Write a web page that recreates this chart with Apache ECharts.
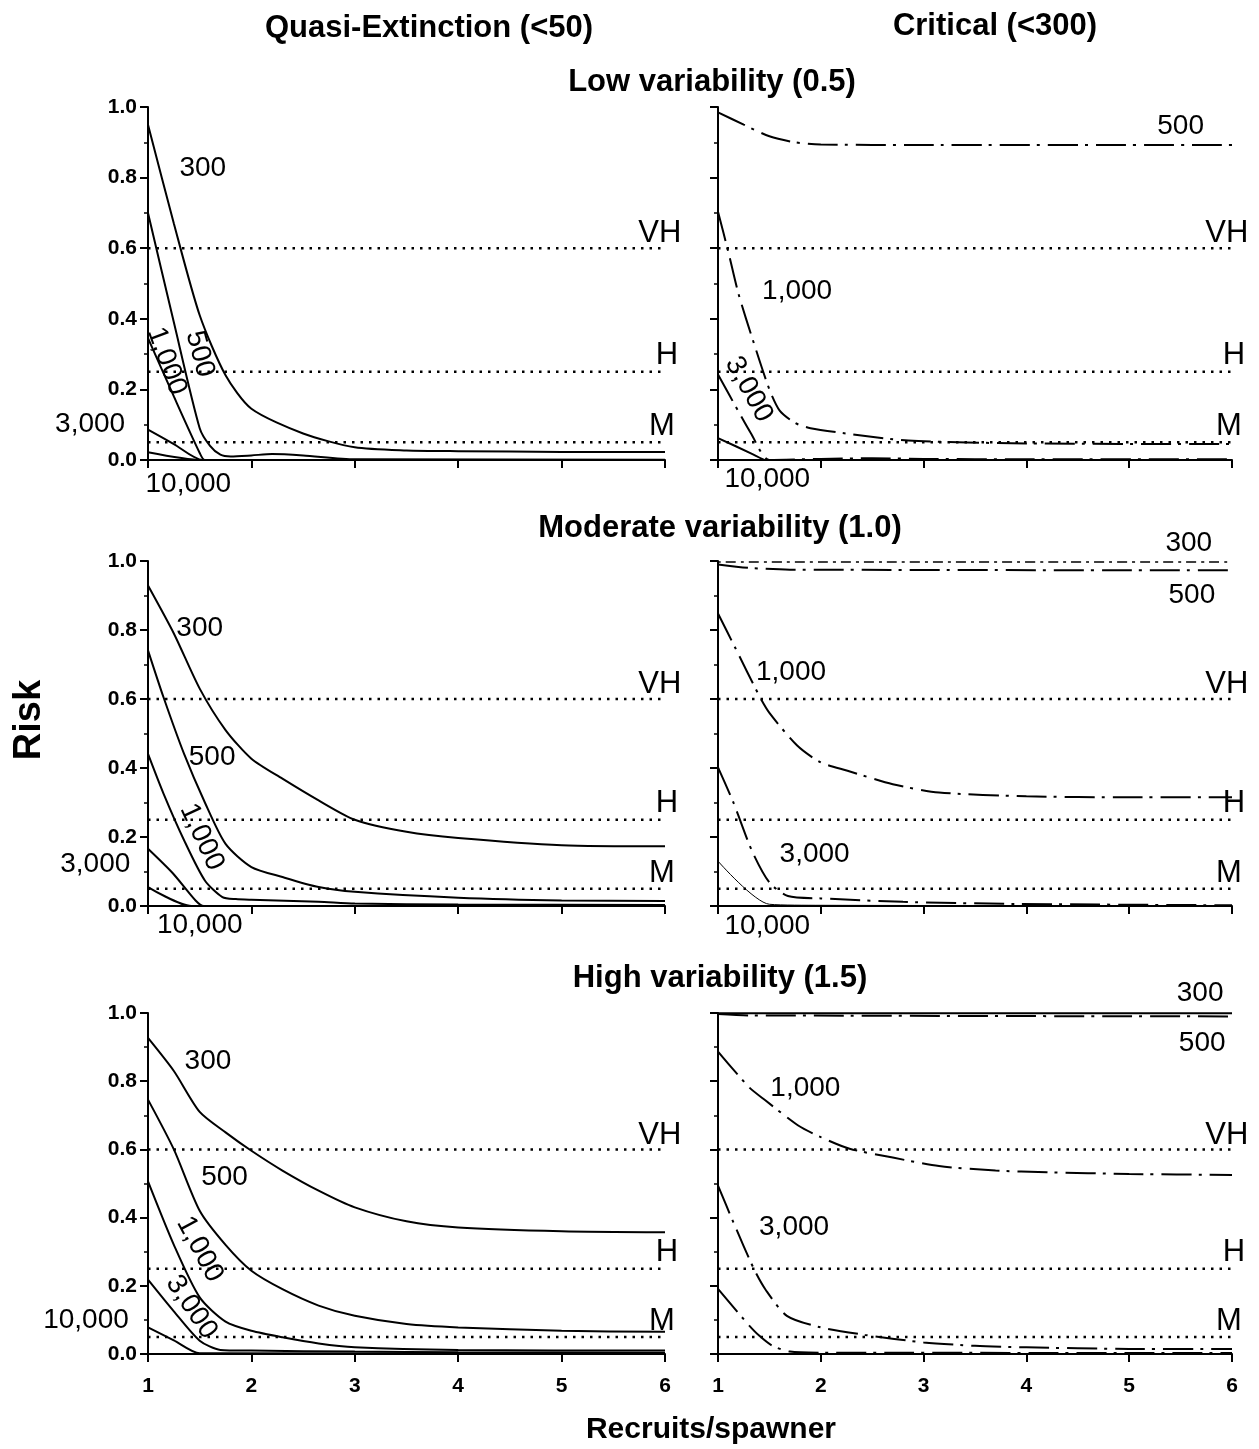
<!DOCTYPE html>
<html>
<head>
<meta charset="utf-8">
<title>Risk vs recruits per spawner</title>
<script src="https://cdn.jsdelivr.net/npm/echarts@6/dist/echarts.min.js"></script>
<style>
  html, body { margin: 0; padding: 0; background: #fff; }
  #chart { width: 1259px; height: 1449px; }
</style>
</head>
<body>
<div id="chart"></div>
<script>
// x axis: recruits/spawner, y axis: risk
var xTicks = [1, 2, 3, 4, 5, 6];
var yTicks = [0, 0.2, 0.4, 0.6, 0.8, 1.0];
var thresholds = [0.6, 0.25, 0.05];
var thresholdNames = ['VH', 'H', 'M'];
var curveNames = ['300', '500', '1,000', '3,000', '10,000'];

// Quasi-extinction (<50), low variability (0.5)
var q05_300 = [[1, 0.95], [1.25, 0.67], [1.5, 0.41], [1.75, 0.24], [2, 0.145], [2.5, 0.075], [3, 0.036], [3.5, 0.027], [4, 0.025], [5, 0.023], [6, 0.023]];
var q05_500 = [[1, 0.70], [1.25, 0.39], [1.5, 0.09], [1.6, 0.04], [1.7, 0.015], [1.8, 0.01], [2, 0.013], [2.2, 0.017], [2.5, 0.013], [3, 0.002], [6, 0.001]];
var q05_1000 = [[1, 0.345], [1.25, 0.18], [1.5, 0.02], [1.55, 0], [6, 0]];
var q05_3000 = [[1, 0.086], [1.25, 0.045], [1.53, 0], [6, 0]];
var q05_10000 = [[1, 0.022], [1.52, 0], [6, 0]];

// Critical (<300), low variability (0.5)
var c05_500 = [[1, 0.985], [1.25, 0.95], [1.5, 0.917], [1.75, 0.9], [2, 0.894], [3, 0.892], [6, 0.892]];
var c05_1000 = [[1, 0.703], [1.1, 0.59], [1.2, 0.47], [1.35, 0.33], [1.5, 0.2], [1.6, 0.14], [1.75, 0.105], [1.9, 0.09], [2.25, 0.075], [2.85, 0.055], [4, 0.047], [6, 0.045]];
var c05_3000 = [[1, 0.242], [1.2, 0.137], [1.32, 0.076], [1.5, 0], [2, 0.003], [2.5, 0.005], [3, 0.003], [4, 0.002], [6, 0.002]];
var c05_10000 = [[1, 0.062], [1.32, 0.019], [1.45, 0]];

// Quasi-extinction, moderate variability (1.0)
var q10_300 = [[1, 0.929], [1.25, 0.79], [1.5, 0.63], [1.75, 0.51], [2, 0.427], [2.3, 0.369], [2.65, 0.306], [3, 0.25], [3.5, 0.215], [4, 0.197], [5, 0.176], [6, 0.173]];
var q10_500 = [[1, 0.741], [1.15, 0.605], [1.35, 0.44], [1.55, 0.3], [1.75, 0.18], [2, 0.113], [2.3, 0.084], [2.65, 0.055], [3, 0.041], [4, 0.024], [5, 0.016], [6, 0.0145]];
var q10_1000 = [[1, 0.441], [1.15, 0.326], [1.35, 0.19], [1.55, 0.074], [1.72, 0.026], [1.85, 0.02], [2, 0.018], [2.65, 0.012], [3, 0.007], [4, 0.004], [6, 0.003]];
var q10_3000 = [[1, 0.166], [1.24, 0.095], [1.46, 0.016], [1.54, 0], [6, 0]];
var q10_10000 = [[1, 0.055], [1.42, 0], [6, 0]];

// Critical, moderate variability (1.0)
var c10_300 = [[1, 0.997], [6, 0.997]];
var c10_500 = [[1, 0.99], [1.3, 0.98], [1.7, 0.975], [6, 0.973]];
var c10_1000 = [[1, 0.848], [1.17, 0.747], [1.4, 0.61], [1.5, 0.56], [1.77, 0.465], [2, 0.416], [2.26, 0.392], [2.7, 0.353], [3.15, 0.329], [4, 0.318], [5, 0.315], [6, 0.315]];
var c10_3000 = [[1, 0.402], [1.15, 0.30], [1.33, 0.16], [1.5, 0.068], [1.68, 0.029], [2, 0.022], [2.8, 0.012], [3.9, 0.006], [6, 0.002]];
var c10_10000 = [[1, 0.13], [1.5, 0.005], [2, 0.002], [6, 0.001]];

// Quasi-extinction, high variability (1.5)
var q15_300 = [[1, 0.927], [1.25, 0.83], [1.5, 0.71], [1.75, 0.65], [2, 0.596], [2.3, 0.538], [2.65, 0.479], [3, 0.43], [3.5, 0.389], [4, 0.371], [5, 0.36], [6, 0.357]];
var q15_500 = [[1, 0.746], [1.25, 0.6], [1.5, 0.42], [1.75, 0.32], [2, 0.244], [2.3, 0.19], [2.65, 0.142], [3, 0.112], [3.5, 0.088], [4, 0.078], [5, 0.068], [6, 0.065]];
var q15_1000 = [[1, 0.506], [1.25, 0.32], [1.5, 0.166], [1.75, 0.095], [2, 0.068], [2.3, 0.049], [2.65, 0.031], [3, 0.02], [4, 0.012], [6, 0.01]];
var q15_3000 = [[1, 0.218], [1.25, 0.125], [1.5, 0.039], [1.7, 0.012], [2, 0.01], [3, 0.007], [4, 0.005], [6, 0.004]];
var q15_10000 = [[1, 0.078], [1.25, 0.04], [1.5, 0.002], [6, 0.001]];

// Critical, high variability (1.5)
var c15_300 = [[1, 0.999], [6, 0.999]];
var c15_500 = [[1, 0.997], [1.3, 0.993], [6, 0.99]];
var c15_1000 = [[1, 0.887], [1.3, 0.783], [1.46, 0.744], [1.78, 0.67], [2, 0.636], [2.28, 0.602], [2.7, 0.576], [3.15, 0.551], [3.7, 0.538], [4.2, 0.533], [5, 0.528], [6, 0.525]];
var c15_3000 = [[1, 0.494], [1.15, 0.386], [1.35, 0.249], [1.46, 0.19], [1.67, 0.112], [2, 0.078], [2.43, 0.056], [3, 0.034], [3.5, 0.024], [4, 0.0196], [5, 0.015], [6, 0.015]];
var c15_10000 = [[1, 0.191], [1.29, 0.088], [1.4, 0.054], [1.53, 0.024], [1.7, 0.007], [2, 0.004], [6, 0.003]];

var panelCurves = [
  [q05_300, q05_500, q05_1000, q05_3000, q05_10000],
  [null, c05_500, c05_1000, c05_3000, c05_10000],
  [q10_300, q10_500, q10_1000, q10_3000, q10_10000],
  [c10_300, c10_500, c10_1000, c10_3000, c10_10000],
  [q15_300, q15_500, q15_1000, q15_3000, q15_10000],
  [c15_300, c15_500, c15_1000, c15_3000, c15_10000]
];

// layout of the six panels
var gridLeft = [148, 718];
var gridWidth = [517, 514];
var gridTop = [107, 561, 1013];
var gridHeight = [353, 345, 341];

var FONT = 'Liberation Sans';
var dashDot = [30, 7, 3, 8];
// bold tick label style
var tickRich = { t: { fontSize: 21, fontWeight: 'bold', fontFamily: FONT, color: '#000' } };

// curve labels, placed in data units of each panel: [panel, text, x, y, rotation deg]
var notes = [
  [0, '300', 1.53, 0.827, 0], [0, '500', 1.5, 0.30, -75], [0, '1,000', 1.18, 0.28, -70],
  [0, '3,000', 0.44, 0.10, 0], [0, '10,000', 1.39, -0.07, 0],
  [1, '500', 5.5, 0.945, 0], [1, '1,000', 1.77, 0.478, 0], [1, '3,000', 1.3, 0.2, -61],
  [1, '10,000', 1.48, -0.055, 0],
  [2, '300', 1.5, 0.805, 0], [2, '500', 1.62, 0.43, 0], [2, '1,000', 1.52, 0.2, -65],
  [2, '3,000', 0.49, 0.12, 0], [2, '10,000', 1.5, -0.055, 0],
  [3, '300', 5.58, 1.05, 0], [3, '500', 5.61, 0.902, 0], [3, '1,000', 1.71, 0.678, 0],
  [3, '3,000', 1.94, 0.15, 0], [3, '10,000', 1.48, -0.058, 0],
  [4, '300', 1.58, 0.857, 0], [4, '500', 1.74, 0.518, 0], [4, '1,000', 1.5, 0.307, -62],
  [4, '3,000', 1.42, 0.137, -56], [4, '10,000', 0.4, 0.10, 0],
  [5, '300', 5.69, 1.057, 0], [5, '500', 5.71, 0.91, 0], [5, '1,000', 1.85, 0.778, 0],
  [5, '3,000', 1.74, 0.372, 0]
];
// threshold name positions (x centre, offset above line)
var thresholdLabelX = [5.95, 6.02, 5.97];
var thresholdLabelDy = [0.042, 0.047, 0.045];

var chart = echarts.init(document.getElementById('chart'));

var grids = [], xAxes = [], yAxes = [], series = [];
for (var p = 0; p < 6; p++) {
  var col = p % 2, row = Math.floor(p / 2);
  grids.push({ left: gridLeft[col], top: gridTop[row], width: gridWidth[col], height: gridHeight[row] });
  xAxes.push({
    type: 'value', gridIndex: p, min: xTicks[0], max: xTicks[xTicks.length - 1], interval: 1,
    axisLine: { onZero: false, lineStyle: { color: '#000', width: 2 } },
    axisTick: { length: 8, lineStyle: { color: '#000', width: 2 } },
    axisLabel: {
      show: row === 2, margin: 22, fontSize: 21, fontWeight: 'bold', color: '#000',
      formatter: function (v) { return '{t|' + v + '}'; }, rich: tickRich
    },
    splitLine: { show: false }
  });
  yAxes.push({
    type: 'value', gridIndex: p, min: yTicks[0], max: yTicks[yTicks.length - 1], interval: 0.2,
    axisLine: { show: true, lineStyle: { color: '#000', width: 2 } },
    axisTick: { show: true, length: 8, lineStyle: { color: '#000', width: 2 } },
    minorTick: { show: true, splitNumber: 2, length: 4, lineStyle: { color: '#000', width: 1.5 } },
    axisLabel: {
      show: col === 0, margin: 11, fontSize: 21, fontWeight: 'bold', color: '#000',
      formatter: function (v) { return '{t|' + v.toFixed(1) + '}'; }, rich: tickRich
    },
    splitLine: { show: false }
  });

  // dotted risk thresholds
  thresholds.forEach(function (t, i) {
    series.push({
      type: 'line', xAxisIndex: p, yAxisIndex: p, name: thresholdNames[i],
      data: [[xTicks[0], t], [xTicks[xTicks.length - 1], t]],
      symbol: 'none', silent: true, z: 1,
      lineStyle: { color: '#000', width: 2.5, type: [2.5, 6] }
    });
  });

  panelCurves[p].forEach(function (d, i) {
    if (!d) return;
    var style = { color: '#000', width: 2, type: col === 0 ? 'solid' : dashDot };
    if (p === 3 && i === 0) style = { color: '#000', width: 1.5, type: [3, 5, 10, 5] };
    if (p === 3 && i === 4) style = { color: '#000', width: 1, type: 'solid' };
    if (p === 1 && i === 4) style.type = 'solid';
    if (p === 5 && i === 0) style.type = 'solid';
    series.push({
      type: 'line', xAxisIndex: p, yAxisIndex: p, name: curveNames[i],
      data: d, symbol: 'none', smooth: 0.25, z: 3, lineStyle: style
    });
  });
}

chart.setOption({
  animation: false,
  textStyle: { fontFamily: FONT },
  grid: grids,
  xAxis: xAxes,
  yAxis: yAxes,
  series: series
});

// text: headings plus labels anchored through the axes
function txt(x, y, text, size, bold, rot) {
  return {
    type: 'text', x: x, y: y, rotation: (rot || 0) * Math.PI / 180, z: 10,
    style: {
      text: text, fill: '#000', fontSize: size, fontWeight: bold ? 'bold' : 'normal',
      fontFamily: FONT, align: 'center', verticalAlign: 'middle'
    }
  };
}

var graphics = [
  txt(429, 28, 'Quasi-Extinction (<50)', 31, true),
  txt(995, 26, 'Critical (<300)', 31, true),
  txt(712, 82, 'Low variability (0.5)', 31, true),
  txt(720, 528, 'Moderate variability (1.0)', 31, true),
  txt(720, 978, 'High variability (1.5)', 31, true),
  txt(711, 1430, 'Recruits/spawner', 30, true),
  txt(30, 720, 'Risk', 38, true, 90)
];

notes.forEach(function (n) {
  var pt = chart.convertToPixel({ gridIndex: n[0] }, [n[2], n[3]]);
  graphics.push(txt(pt[0], pt[1], n[1], 28, false, n[4]));
});

for (var g = 0; g < 6; g++) {
  thresholds.forEach(function (t, i) {
    var pt = chart.convertToPixel({ gridIndex: g }, [thresholdLabelX[i], t + thresholdLabelDy[i]]);
    graphics.push(txt(pt[0], pt[1], thresholdNames[i], 31, false));
  });
}

chart.setOption({ graphic: graphics });
</script>
</body>
</html>
